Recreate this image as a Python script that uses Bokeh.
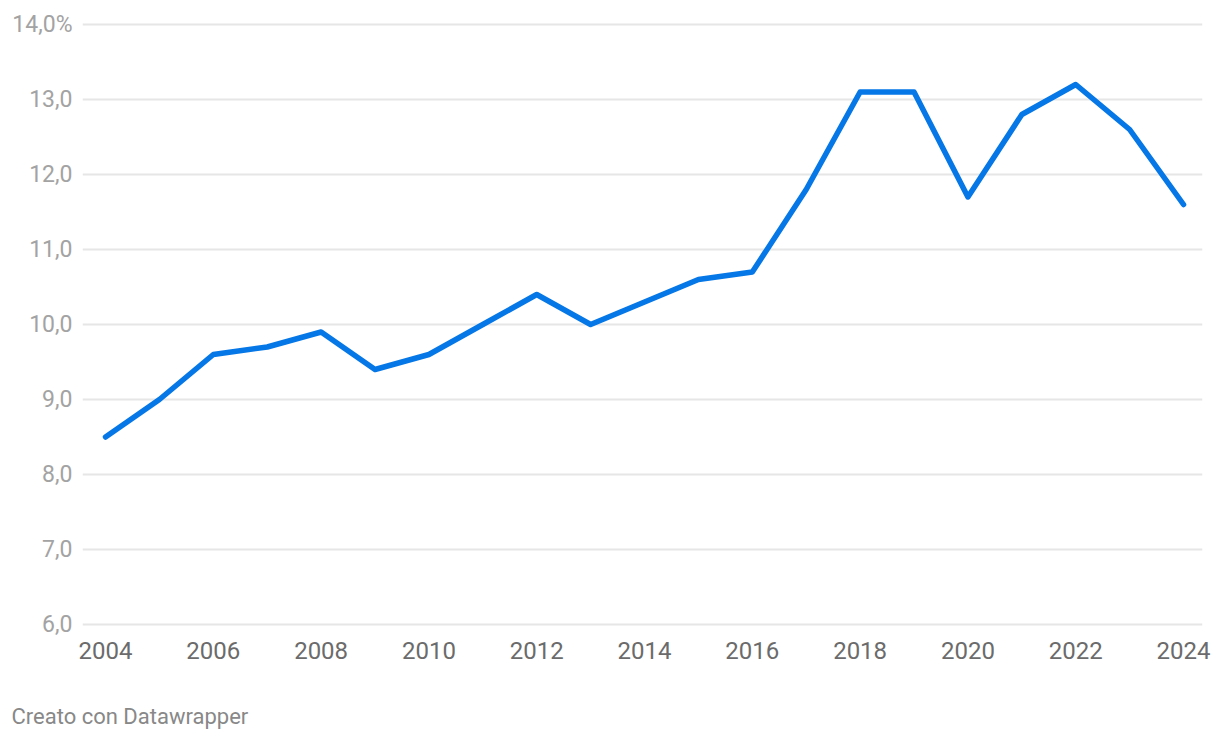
from bokeh.plotting import figure
from bokeh.layouts import column
from bokeh.models import FixedTicker, CustomJSTickFormatter, Range1d
from bokeh.core.properties import value
from bokeh.embed import file_html
from bokeh.resources import INLINE

years = [2004, 2005, 2006, 2007, 2008, 2009, 2010, 2011, 2012, 2013, 2014,
         2015, 2016, 2017, 2018, 2019, 2020, 2021, 2022, 2023, 2024]
values = [8.5, 9.0, 9.6, 9.7, 9.9, 9.4, 9.6, 10.0, 10.4, 10.0, 10.3,
          10.6, 10.7, 11.8, 13.1, 13.1, 11.7, 12.8, 13.2, 12.6, 11.6]
x_ticks = [2004, 2006, 2008, 2010, 2012, 2014, 2016, 2018, 2020, 2022, 2024]
y_ticks = [6, 7, 8, 9, 10, 11, 12, 13, 14]
footer = "Creato con Datawrapper"

W, H1, H2 = 1212, 690, 42
p = figure(width=W, height=H1, output_backend="svg", toolbar_location=None,
           x_range=Range1d(2003.573, 2024.352), y_range=Range1d(5.96, 14.04),
           min_border_left=82, min_border_right=10, min_border_top=21,
           min_border_bottom=63, background_fill_color="white",
           border_fill_color="white", outline_line_color=None,
           frame_align=False)

p.line(years, values, line_color="#0577e6", line_width=5.5,
       line_join="round", line_cap="round")

# axes
p.xaxis.ticker = FixedTicker(ticks=x_ticks)
p.xaxis.formatter = CustomJSTickFormatter(code="return tick.toFixed(0);")
p.yaxis.ticker = FixedTicker(ticks=y_ticks)
p.yaxis.formatter = CustomJSTickFormatter(
    code="return tick == 14 ? '14,0%' : tick.toFixed(1).replace('.', ',');")
for ax in (p.xaxis, p.yaxis):
    ax.axis_line_color = None
    ax.major_tick_line_color = None
    ax.minor_tick_line_color = None
    ax.major_label_text_font = "Roboto"
p.xaxis.major_label_text_font_size = "24px"
p.yaxis.major_label_text_font_size = "23px"
p.xaxis.major_label_text_color = "#6b6b6b"
p.yaxis.major_label_text_color = "#a3a3a3"
p.xaxis.major_label_standoff = 8
p.yaxis.major_label_standoff = 4

p.xgrid.grid_line_color = None
p.ygrid.grid_line_color = "#e6e6e6"
p.ygrid.grid_line_width = 2
p.ygrid.ticker = FixedTicker(ticks=y_ticks)

# footer strip
f = figure(width=W, height=H2, output_backend="svg", toolbar_location=None,
           x_range=Range1d(0, W), y_range=Range1d(0, H2),
           min_border=0, background_fill_color="white",
           border_fill_color="white", outline_line_color=None,
           frame_align=False)
f.axis.visible = False
f.grid.visible = False
f.text(x=[11], y=[16], text=[footer], text_font=value("Roboto"),
       text_font_size="22px", text_color="#888888",
       text_baseline="middle", text_align="left")

layout = column(p, f, spacing=0)
open("out.html", "w").write(file_html(layout, INLINE))
